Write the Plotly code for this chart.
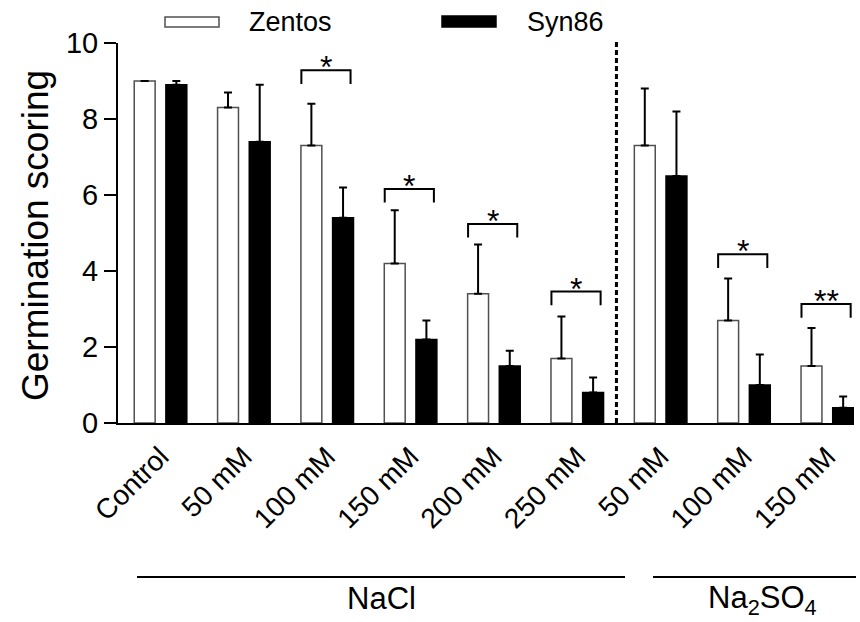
import plotly.graph_objects as go

# Germination scores (mean and SD) for two cultivars under salt treatments
categories = ["Control", "50 mM", "100 mM", "150 mM", "200 mM", "250 mM",
              "50 mM", "100 mM", "150 mM"]
zentos_mean = [9.0, 8.3, 7.3, 4.2, 3.4, 1.7, 7.3, 2.7, 1.5]
zentos_sd = [0.0, 0.4, 1.1, 1.4, 1.3, 1.1, 1.5, 1.1, 1.0]
syn86_mean = [8.9, 7.4, 5.4, 2.2, 1.5, 0.8, 6.5, 1.0, 0.4]
syn86_sd = [0.1, 1.5, 0.8, 0.5, 0.4, 0.4, 1.7, 0.8, 0.3]

# Significance brackets: group index, bracket height, label
sig_groups = [2, 3, 4, 5, 7, 8]
sig_heights = [9.28, 6.16, 5.24, 3.46, 4.44, 3.13]
sig_labels = ["*", "*", "*", "*", "*", "**"]

FONT = "Liberation Sans, Arial, Helvetica, sans-serif"
W, H = 860, 622
ML, MR, MT, MB = 118, 6, 43, 199
PW, PH = W - ML - MR, H - MT - MB


def px_x(px):
    return (px - ML) / PW


def px_y(py):
    return (H - MB - py) / PH


def upper_only(sd):
    """One-sided (upward) error bars; a zero SD draws no bar at all."""
    plus = [e if e > 0 else None for e in sd]
    minus = [0 if e > 0 else None for e in sd]
    return plus, minus


xs = list(range(len(categories)))
z_plus, z_minus = upper_only(zentos_sd)
s_plus, s_minus = upper_only(syn86_sd)

fig = go.Figure()
fig.add_trace(go.Bar(
    x=xs, y=zentos_mean, name="Zentos",
    marker=dict(color="white", line=dict(color="#505050", width=1.5)),
    error_y=dict(type="data", symmetric=False, array=z_plus, arrayminus=z_minus,
                 color="black", thickness=2, width=4),
    showlegend=False,
))
fig.add_trace(go.Bar(
    x=xs, y=syn86_mean, name="Syn86",
    marker=dict(color="black", line=dict(color="black", width=1.5)),
    error_y=dict(type="data", symmetric=False, array=s_plus, arrayminus=s_minus,
                 color="black", thickness=2, width=4),
    showlegend=False,
))

# Brackets over the compared pairs
bx, by = [], []
leg = 0.36
for g, h in zip(sig_groups, sig_heights):
    bx += [g - 0.31, g - 0.31, g + 0.28, g + 0.28, None]
    by += [h - leg, h, h, h - leg, None]
fig.add_trace(go.Scatter(x=bx, y=by, mode="lines",
                         line=dict(color="black", width=2),
                         cliponaxis=False, showlegend=False,
                         hoverinfo="skip"))

annotations = []
for g, h, lab in zip(sig_groups, sig_heights, sig_labels):
    annotations.append(dict(x=g - 0.015, y=h, xref="x", yref="y", text=lab,
                            showarrow=False, yanchor="middle", yshift=3,
                            font=dict(family=FONT, size=32, color="black")))

# Y axis title
annotations.append(dict(x=px_x(35), y=px_y(236), xref="paper", yref="paper",
                        text="Germination scoring", textangle=-90,
                        showarrow=False, xanchor="center", yanchor="middle",
                        font=dict(family=FONT, size=37, color="black")))

# Salt group labels under the axis
annotations.append(dict(x=px_x(381), y=px_y(598), xref="paper", yref="paper",
                        text="NaCl", showarrow=False,
                        xanchor="center", yanchor="middle",
                        font=dict(family=FONT, size=31, color="black")))
annotations.append(dict(x=px_x(762), y=px_y(600), xref="paper", yref="paper",
                        text="Na<sub>2</sub>SO<sub>4</sub>", showarrow=False,
                        xanchor="center", yanchor="middle",
                        font=dict(family=FONT, size=31, color="black")))

# Legend entries
annotations.append(dict(x=px_x(247), y=px_y(22), xref="paper", yref="paper",
                        text="Zentos", showarrow=False,
                        xanchor="left", yanchor="middle",
                        font=dict(family=FONT, size=27, color="black")))
annotations.append(dict(x=px_x(525), y=px_y(22), xref="paper", yref="paper",
                        text="Syn86", showarrow=False,
                        xanchor="left", yanchor="middle",
                        font=dict(family=FONT, size=27, color="black")))

shapes = [
    # legend swatches
    dict(type="rect", xref="paper", yref="paper",
         x0=px_x(165), x1=px_x(219), y0=px_y(27), y1=px_y(17),
         fillcolor="white", line=dict(color="#505050", width=1.5)),
    dict(type="rect", xref="paper", yref="paper",
         x0=px_x(442), x1=px_x(496), y0=px_y(27), y1=px_y(16),
         fillcolor="black", line=dict(color="black", width=1.5)),
    # separator between NaCl and Na2SO4 treatments
    dict(type="line", xref="x", yref="paper", x0=5.47, x1=5.47,
         y0=0, y1=px_y(40), line=dict(color="black", width=3, dash="5px,3px")),
    # group underlines
    dict(type="line", xref="paper", yref="paper",
         x0=px_x(137), x1=px_x(625), y0=px_y(577), y1=px_y(577),
         line=dict(color="black", width=2)),
    dict(type="line", xref="paper", yref="paper",
         x0=px_x(653), x1=px_x(856), y0=px_y(577), y1=px_y(577),
         line=dict(color="black", width=2)),
]

fig.update_layout(
    width=W, height=H,
    margin=dict(l=ML, r=MR, t=MT, b=MB, pad=0),
    paper_bgcolor="white", plot_bgcolor="white",
    barmode="group", bargap=0.24, bargroupgap=0.34,
    font=dict(family=FONT, color="black"),
    annotations=annotations, shapes=shapes,
    showlegend=False,
)
fig.update_xaxes(
    range=[-0.51, 8.32], tickmode="array", tickvals=xs, ticktext=categories,
    tickangle=-45, ticks="", ticklabelstandoff=4,
    showgrid=False, zeroline=False,
    showline=True, linecolor="black", linewidth=2,
    tickfont=dict(family=FONT, size=28, color="black"),
)
fig.update_yaxes(
    range=[0, 10], tickvals=[0, 2, 4, 6, 8, 10],
    ticks="outside", ticklen=12, tickwidth=2, tickcolor="black",
    showgrid=False, zeroline=False,
    showline=True, linecolor="black", linewidth=2,
    tickfont=dict(family=FONT, size=29, color="black"),
)

fig.write_html("out.html")
